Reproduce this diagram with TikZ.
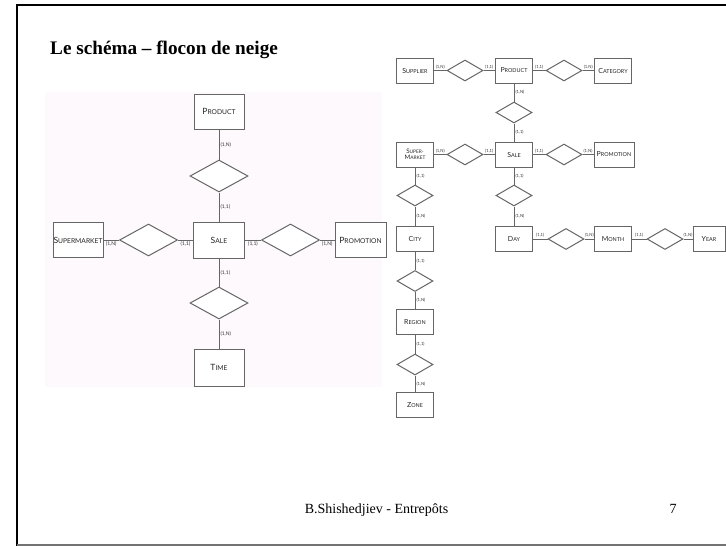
\documentclass[tikz,border=0pt]{standalone}
\usepackage{fontspec}
\usepackage{graphicx}
\setmainfont{Liberation Serif}
\newfontfamily\diagfont{Lato}
\usetikzlibrary{shapes.geometric}
\newcommand\kc[2]{#1\scalebox{0.78}{#2}}
\definecolor{photobg}{RGB}{253,249,252}
\begin{document}
\begin{tikzpicture}[x=1pt,y=-1pt,
  ent/.style={draw=black!60, line width=1pt, fill=white, inner sep=0pt, text=black!85, align=center},
  entL/.style={ent, minimum width=50pt, minimum height=35pt, font=\diagfont\fontsize{8.6}{9}\selectfont},
  entR/.style={ent, minimum width=37pt, minimum height=25pt, font=\diagfont\fontsize{7}{7}\selectfont},
  rel/.style={diamond, draw=black!60, line width=1pt, fill=white, inner sep=0pt},
  relL/.style={rel, minimum width=58pt, minimum height=32pt},
  relR/.style={rel, minimum width=36pt, minimum height=21pt},
  conn/.style={draw=black!60, line width=1pt},
  cardL/.style={font=\diagfont\fontsize{5}{5}\selectfont, text=black!80, inner sep=1pt},
  cardR/.style={font=\diagfont\fontsize{4.2}{4.2}\selectfont, text=black!80, inner sep=1pt},
  slidetext/.style={inner sep=0pt, text=black}
]
\useasboundingbox (0,0) rectangle (726,546);
\fill[white] (0,0) rectangle (726,546);
\fill[photobg] (45,92) rectangle (382,387);
% slide frame
\draw[black, line width=2.2pt] (17,546) -- (17,5) -- (726,5);
\draw[black!55, line width=1.5pt] (17,545.2) -- (726,545.2);

% title and footer
\node[slidetext, anchor=base west, font=\bfseries\fontsize{19.2}{21}\selectfont] (title) at (50,54) {Le schéma – flocon de neige};
\node[slidetext, anchor=base, font=\fontsize{14}{16}\selectfont] (footer) at (376.5,513) {B.Shishedjiev - Entrepôts};
\node[slidetext, anchor=base, font=\fontsize{14}{16}\selectfont] (pagenum) at (673,513) {7};

% ---------- left diagram (star) ----------
\node[entL] (lP) at (219,111.5) {\kc{P}{RODUCT}};
\node[relL] (lD1) at (219,176) {};
\node[entL, minimum width=51pt, minimum height=36pt] (lS) at (219,240) {\kc{S}{ALE}};
\node[entL] (lSM) at (78,240) {\kc{S}{UPERMARKET}};
\node[relL] (lDL) at (148.5,240) {};
\node[relL] (lDR) at (290.5,240) {};
\node[entL, minimum width=51pt] (lPR) at (360.5,240) {\kc{P}{ROMOTION}};
\node[relL] (lDB) at (219,303) {};
\node[entL, minimum height=37pt] (lT) at (219,367.5) {\kc{T}{IME}};

\draw[conn] (lP) -- node[cardL,right]{(1,N)} (lD1) -- node[cardL,right]{(1,1)} (lS);
\draw[conn] (lSM) -- node[cardL,below]{(1,N)} (lDL) -- node[cardL,below]{(1,1)} (lS);
\draw[conn] (lS) -- node[cardL,below]{(1,1)} (lDR) -- node[cardL,below]{(1,N)} (lPR);
\draw[conn] (lS) -- node[cardL,right]{(1,1)} (lDB) -- node[cardL,right]{(1,N)} (lT);

% ---------- right diagram (snowflake) ----------
\node[entR] (rSu) at (415,70.5) {\kc{S}{UPPLIER}};
\node[relR] (rD1) at (465,70.5) {};
\node[entR] (rP) at (514,70.5) {\kc{P}{RODUCT}};
\node[relR] (rD2) at (564,70.5) {};
\node[entR] (rC) at (613,70.5) {\kc{C}{ATEGORY}};
\node[relR] (rD3) at (514,112.5) {};
\node[entR] (rS) at (514,154.5) {\kc{S}{ALE}};
\node[entR, font=\diagfont\fontsize{6.2}{6.2}\selectfont] (rSM) at (415,154.5) {\kc{S}{UPER-}\\\kc{M}{ARKET}};
\node[relR] (rD4) at (465,154.5) {};
\node[relR] (rD5) at (564,154.5) {};
\node[entR, minimum width=40pt] (rPr) at (614,154.5) {\kc{P}{ROMOTION}};
\node[relR] (rD6) at (415,195.5) {};
\node[relR] (rD7) at (514,195.5) {};
\node[entR] (rCi) at (415,239) {\kc{C}{ITY}};
\node[entR] (rDa) at (514,239) {\kc{D}{AY}};
\node[relR] (rD8) at (566,239) {};
\node[entR] (rMo) at (613,239) {\kc{M}{ONTH}};
\node[relR] (rD9) at (665,239) {};
\node[entR, minimum width=32pt] (rY) at (709,239) {\kc{Y}{EAR}};
\node[relR] (rD10) at (415,281) {};
\node[entR] (rRe) at (415,322) {\kc{R}{EGION}};
\node[relR] (rD11) at (415,364.5) {};
\node[entR] (rZ) at (415,405) {\kc{Z}{ONE}};

\draw[conn] (rSu) -- node[cardR,above]{(1,N)} (rD1) -- node[cardR,above]{(1,1)} (rP);
\draw[conn] (rP) -- node[cardR,above]{(1,1)} (rD2) -- node[cardR,above]{(1,N)} (rC);
\draw[conn] (rP) -- node[cardR,right]{(1,N)} (rD3) -- node[cardR,right]{(1,1)} (rS);
\draw[conn] (rSM) -- node[cardR,above]{(1,N)} (rD4) -- node[cardR,above]{(1,1)} (rS);
\draw[conn] (rS) -- node[cardR,above]{(1,1)} (rD5) -- node[cardR,above]{(1,N)} (rPr);
\draw[conn] (rSM) -- node[cardR,right]{(1,1)} (rD6) -- node[cardR,right]{(1,N)} (rCi);
\draw[conn] (rS) -- node[cardR,right]{(1,1)} (rD7) -- node[cardR,right]{(1,N)} (rDa);
\draw[conn] (rDa) -- node[cardR,above]{(1,1)} (rD8) -- node[cardR,above]{(1,N)} (rMo);
\draw[conn] (rMo) -- node[cardR,above]{(1,1)} (rD9) -- node[cardR,above]{(1,N)} (rY);
\draw[conn] (rCi) -- node[cardR,right]{(1,1)} (rD10) -- node[cardR,right]{(1,N)} (rRe);
\draw[conn] (rRe) -- node[cardR,right]{(1,1)} (rD11) -- node[cardR,right]{(1,N)} (rZ);
\end{tikzpicture}
\end{document}
